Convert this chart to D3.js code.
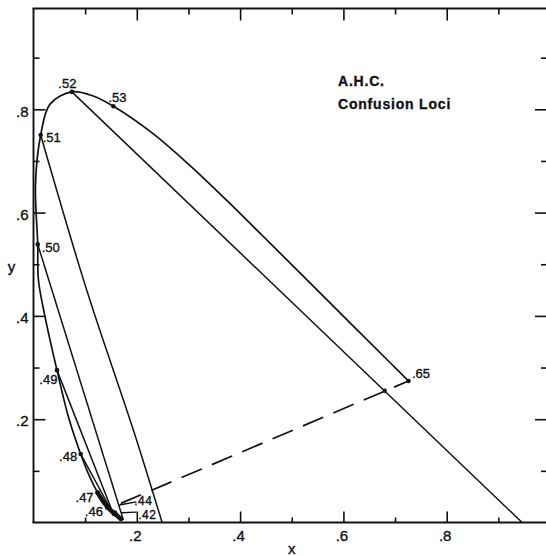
<!DOCTYPE html>
<html>
<head>
<meta charset="utf-8">
<script src="https://cdn.jsdelivr.net/npm/d3@7"></script>
<style>
  body { margin: 0; background: #fff; }
  svg { display: block; }
  text { font-family: "Liberation Sans", Arial, sans-serif; fill: #111; stroke: #111; stroke-width: 0.35px; }
</style>
</head>
<body>
<div id="chart"></div>
<script>
// spectrum locus as drawn in the figure (very close to CIE 1931), wavelength in nm
const locusNm = [650, 620, 600, 580, 570, 560, 550, 540, 530, 525, 520, 515, 510, 505, 500, 497, 494, 490, 485, 480, 475, 470, 465, 460, 455, 450, 445, 440, 430, 420, 410];
const locusX  = [0.726, 0.6915, 0.627, 0.5125, 0.4441, 0.3731, 0.3016, 0.2296, 0.1547, 0.1142, 0.0743, 0.032, 0.0139, 0.0039, 0.0082, 0.0095, 0.022, 0.0454, 0.0687, 0.0913, 0.1096, 0.1241, 0.1355, 0.144, 0.151, 0.1566, 0.161, 0.1644, 0.169, 0.1714, 0.1726];
const locusY  = [0.274, 0.3083, 0.3725, 0.4866, 0.5547, 0.6245, 0.6923, 0.7543, 0.8059, 0.8262, 0.8338, 0.81, 0.7502, 0.6548, 0.5384, 0.47, 0.40, 0.295, 0.2007, 0.1327, 0.0868, 0.0578, 0.0399, 0.0297, 0.0223, 0.0177, 0.0138, 0.0109, 0.0069, 0.0051, 0.0048];

// marked wavelengths (in micrometres, as labelled)
const markNm     = [650, 530, 520, 510, 500, 490, 480, 470, 460, 450];
const markLabels = [".65", ".53", ".52", ".51", ".50", ".49", ".48", ".47", ".46", ""];

// confusion loci
const line52 = [[0.0743, 0.8338], [0.946, 0.0]];
const line51 = [[0.0139, 0.7502], [0.103, 0.45], [0.193, 0.18], [0.249, 0.0]];
const line50 = [[0.0082, 0.5384], [0.174, 0.005]];
const line49 = [[0.0454, 0.295], [0.152, 0.023]];
const line48 = [[0.0913, 0.1327], [0.147, 0.030]];
const dashed65 = [[0.169, 0.037], [0.726, 0.274]];
const crossPoint = [0.680, 0.255];

// leaders for the short-wave labels
const leader44 = [[0.166, 0.034], [0.199, 0.040]];
const leader42 = [[0.170, 0.019], [0.199, 0.020]];

const xMajor = [0.2, 0.4, 0.6, 0.8];
const xMinor = [0.1, 0.3, 0.5, 0.7, 0.9];
const yMajor = [0.2, 0.4, 0.6, 0.8];
const yMinor = [0.1, 0.3, 0.5, 0.7, 0.9];

const W = 546, H = 556;
const frameTop = 8.5;

const x = d3.scaleLinear().domain([0, 1]).range([33.5, 550]);
const y = d3.scaleLinear().domain([0, 1]).range([522.5, 6]);

const svg = d3.select("#chart").append("svg")
  .attr("width", W)
  .attr("height", H);

const fmt = d => String(d).replace(/^0/, "");
const ink = "#111";

function styleAxis(g) {
  g.select(".domain").remove();
  g.selectAll("line").attr("stroke", ink).attr("stroke-width", 1.6);
  g.selectAll("text").attr("fill", ink).style("font-size", "15px")
    .style("font-family", "'Liberation Sans', Arial, sans-serif");
}

// frame
const frame = svg.append("g").attr("class", "frame")
  .attr("stroke", ink).attr("stroke-width", 1.9).attr("fill", "none");
frame.append("line").attr("x1", x(0)).attr("x2", x(0)).attr("y1", frameTop).attr("y2", y(0));
frame.append("line").attr("x1", x(0) - 1).attr("x2", x(1)).attr("y1", frameTop).attr("y2", frameTop);
frame.append("line").attr("x1", x(0) - 1).attr("x2", x(1)).attr("y1", y(0)).attr("y2", y(0));

// bottom axis
svg.append("g").attr("transform", `translate(0,${y(0)})`)
  .call(d3.axisBottom(x).tickValues(xMajor).tickSizeInner(-11).tickSizeOuter(0).tickPadding(8).tickFormat(fmt))
  .call(styleAxis)
  .selectAll("text").attr("dx", "-2");
svg.append("g").attr("transform", `translate(0,${y(0)})`)
  .call(d3.axisBottom(x).tickValues(xMinor).tickSizeInner(-5).tickSizeOuter(0).tickFormat(""))
  .call(styleAxis);

// left axis
svg.append("g").attr("transform", `translate(${x(0)},0)`)
  .call(d3.axisLeft(y).tickValues(yMajor).tickSizeInner(-12).tickSizeOuter(0).tickPadding(5).tickFormat(fmt))
  .call(styleAxis)
  .selectAll("text").attr("dy", "0.45em");
svg.append("g").attr("transform", `translate(${x(0)},0)`)
  .call(d3.axisLeft(y).tickValues(yMinor).tickSizeInner(-6).tickSizeOuter(0).tickFormat(""))
  .call(styleAxis);

// top axis, ticks only
svg.append("g").attr("transform", `translate(0,${frameTop})`)
  .call(d3.axisTop(x).tickValues(xMajor).tickSizeInner(-12).tickSizeOuter(0).tickFormat(""))
  .call(styleAxis);
svg.append("g").attr("transform", `translate(0,${frameTop})`)
  .call(d3.axisTop(x).tickValues(xMinor).tickSizeInner(-6).tickSizeOuter(0).tickFormat(""))
  .call(styleAxis);

// right axis, ticks only
svg.append("g").attr("transform", `translate(${x(1) - 1},0)`)
  .call(d3.axisRight(y).tickValues(yMajor).tickSizeInner(-14).tickSizeOuter(0).tickFormat(""))
  .call(styleAxis);
svg.append("g").attr("transform", `translate(${x(1) - 1},0)`)
  .call(d3.axisRight(y).tickValues(yMinor).tickSizeInner(-8).tickSizeOuter(0).tickFormat(""))
  .call(styleAxis);

// axis titles
svg.append("text").attr("x", x(0.5)).attr("y", 554).attr("text-anchor", "middle")
  .style("font-size", "15px").text("x");
svg.append("text").attr("x", 11.5).attr("y", 272).attr("text-anchor", "middle")
  .style("font-size", "15px").text("y");

// plot
const chart = svg.append("g").attr("class", "chart-group");
const locus = locusNm.map((nm, i) => ({nm: nm, x: locusX[i], y: locusY[i]}));
const byNm = nm => locus.find(o => o.nm === nm);

const curve = d3.line()
  .x(o => x(o.x)).y(o => y(o.y))
  .curve(d3.curveCatmullRom.alpha(0.5));
const straight = d3.line().x(p => x(p[0])).y(p => y(p[1]));
const bowed = d3.line().x(p => x(p[0])).y(p => y(p[1])).curve(d3.curveCatmullRom.alpha(0.5));

chart.append("path").datum(locus)
  .attr("d", curve)
  .attr("fill", "none").attr("stroke", ink).attr("stroke-width", 1.7);

// heavy short-wave end where the loci meet
chart.append("path").datum(locus.filter(o => o.nm <= 470 && o.nm >= 430))
  .attr("d", curve)
  .attr("fill", "none").attr("stroke", ink).attr("stroke-width", 4.5).attr("stroke-linecap", "round");

[line52, line50, line49, line48].forEach(pts => {
  chart.append("path").datum(pts).attr("d", straight)
    .attr("fill", "none").attr("stroke", ink).attr("stroke-width", 1.5);
});
chart.append("path").datum(line51).attr("d", bowed)
  .attr("fill", "none").attr("stroke", ink).attr("stroke-width", 1.5);

chart.append("path").datum(dashed65).attr("d", straight)
  .attr("fill", "none").attr("stroke", ink).attr("stroke-width", 1.7)
  .attr("stroke-dasharray", "22,11");

[leader44, leader42].forEach(pts => {
  chart.append("path").datum(pts).attr("d", straight)
    .attr("fill", "none").attr("stroke", ink).attr("stroke-width", 1.4);
});

// dots on the locus
const marks = markNm.map((nm, i) => ({nm: nm, label: markLabels[i], p: byNm(nm)}));
chart.selectAll(".mark").data(marks).enter()
  .append("circle").attr("class", "mark")
  .attr("cx", o => x(o.p.x)).attr("cy", o => y(o.p.y))
  .attr("r", o => o.nm <= 460 ? 3 : 2.3)
  .attr("fill", ink);
chart.append("circle").attr("cx", x(crossPoint[0])).attr("cy", y(crossPoint[1]))
  .attr("r", 2.2).attr("fill", ink);

// label placement: [dx, dy, anchor]
const place = {
  ".65": [3.5, -3, "start"],
  ".53": [-5, -4, "start"],
  ".52": [-4.5, -4, "middle"],
  ".51": [2, 7, "start"],
  ".50": [4, 7.5, "start"],
  ".49": [0.5, 14, "end"],
  ".48": [-3.5, 7, "end"],
  ".47": [-4, 9, "end"],
  ".46": [-5, 9, "end"]
};
chart.selectAll(".wl").data(marks.filter(o => o.label)).enter()
  .append("text").attr("class", "wl")
  .attr("x", o => x(o.p.x) + place[o.label][0])
  .attr("y", o => y(o.p.y) + place[o.label][1])
  .attr("text-anchor", o => place[o.label][2])
  .style("font-size", "13px")
  .text(o => o.label);

chart.append("text").attr("x", x(leader44[1][0]) - 2).attr("y", y(leader44[1][1]) + 3.5)
  .style("font-size", "12px").style("letter-spacing", "0.5px").text(".44");
chart.append("text").attr("x", x(leader42[1][0]) + 2).attr("y", y(leader42[1][1]) + 6.5)
  .style("font-size", "12px").style("letter-spacing", "0.5px").text(".42");

// title
const title = svg.append("g").style("font-size", "14px").style("font-weight", "bold")
  .style("letter-spacing", "0.8px");
title.append("text").attr("x", 338).attr("y", 85.5).text("A.H.C.");
title.append("text").attr("x", 338).attr("y", 108.5).text("Confusion Loci");
</script>
</body>
</html>
